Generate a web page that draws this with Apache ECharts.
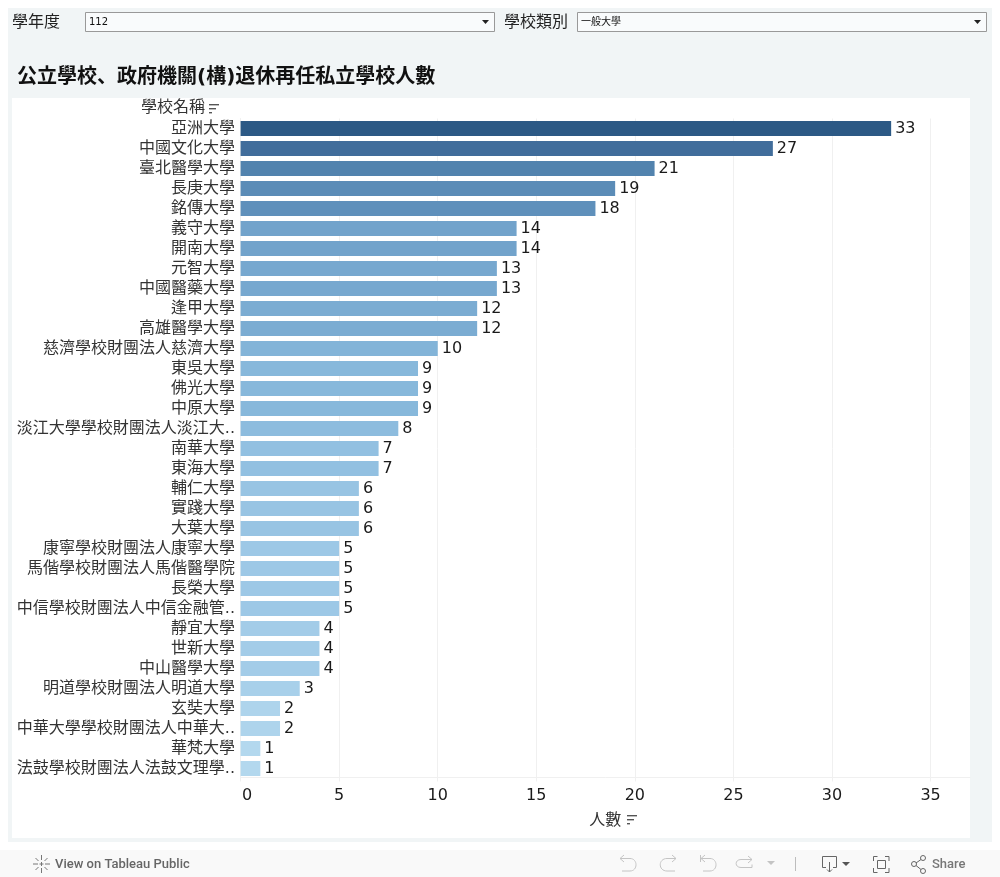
<!DOCTYPE html>
<html>
<head>
<meta charset="utf-8">
<title>公立學校、政府機關(構)退休再任私立學校人數</title>
<style>
  html, body { margin: 0; padding: 0; background: #fff; }
  #main { width: 1000px; height: 877px; }
  #icons { position: absolute; left: 0; top: 0; pointer-events: none; }
</style>
<script src="https://cdn.jsdelivr.net/npm/echarts@6/dist/echarts.min.js"></script>
</head>
<body>
<div id="main"></div>
<!-- 下拉箭頭與工具列圖示 -->
<svg id="icons" width="1000" height="877" fill="none">
  <path d="M482 20h7l-3.500 4z" fill="#222"/>
  <path d="M974 20h7l-3.500 4z" fill="#222"/>
  <path d="M41.500 855v5M41.500 868v5M33 864h5M45 864h5M35.500 858l3 3M44.500 867l3 3M35.500 870l3-3M44.500 861l3-3M41.500 862v4M39.500 864h4" stroke="#777"/>
  <path d="M624 855l-4 3.500 4 3.500M620 858.500h10c8 0 8 12.500 0 12.500h-8" stroke="#c4c4c4"/>
  <path d="M672 855l4 3.500-4 3.500M676 858.500h-9c-9 0-9 12.500 0 12.500h8" stroke="#c4c4c4"/>
  <path d="M700.500 855v7M705 855l-4 3.500 4 3.500M701 858.500h9c8 0 8 12.500 0 12.500h-7" stroke="#c4c4c4"/>
  <path d="M748 856l4 3.500-4 3.500M752 859.500h-11c-6.500 0-6.500 8 0 8h11v-3" stroke="#c4c4c4"/>
  <path d="M767 861h8l-4 4z" fill="#c4c4c4"/>
  <path d="M795.500 857v14" stroke="#bdbdbd"/>
  <path d="M826 867.500h-3.500v-11h14v11h-3.500M829.500 862v10M827 869.500l2.500 2.500 2.500-2.500" stroke="#666"/>
  <path d="M842 862h8l-4 4z" fill="#555"/>
  <path d="M873.500 861v-4.500h4M885 856.500h4v4.500M889 868v4.500h-4M877.500 872.500h-4v-4.500M877.500 860.500h8v8h-8z" stroke="#666"/>
  <circle cx="914" cy="864" r="2.500" stroke="#666"/>
  <circle cx="923" cy="858" r="2.500" stroke="#666"/>
  <circle cx="923" cy="871" r="2.500" stroke="#666"/>
  <path d="M916 863l5-3.500M916 865.500l5 4" stroke="#666"/>
</svg>
<script>
const schools = [
  "亞洲大學", "中國文化大學", "臺北醫學大學", "長庚大學", "銘傳大學", "義守大學", "開南大學",
  "元智大學", "中國醫藥大學", "逢甲大學", "高雄醫學大學", "慈濟學校財團法人慈濟大學", "東吳大學",
  "佛光大學", "中原大學", "淡江大學學校財團法人淡江大..", "南華大學", "東海大學", "輔仁大學",
  "實踐大學", "大葉大學", "康寧學校財團法人康寧大學", "馬偕學校財團法人馬偕醫學院", "長榮大學",
  "中信學校財團法人中信金融管..", "靜宜大學", "世新大學", "中山醫學大學", "明道學校財團法人明道大學",
  "玄奘大學", "中華大學學校財團法人中華大..", "華梵大學", "法鼓學校財團法人法鼓文理學.."
];
const counts = [33, 27, 21, 19, 18, 14, 14, 13, 13, 12, 12, 10, 9, 9, 9, 8, 7, 7, 6, 6, 6, 5, 5, 5, 5, 4, 4, 4, 3, 2, 2, 1, 1];
const xTicks = [0, 5, 10, 15, 20, 25, 30, 35];

const fontFamily = "'DejaVu Sans', 'Noto Sans CJK JP', sans-serif";
const uiFont = "Roboto, 'DejaVu Sans', sans-serif";
const gridColor = "#f0f0f0";
const textColor = "#1a1a1a";

// 頁面外框
function box(x, y, width, height, fill, stroke) {
  return {
    type: "rect",
    z: -1,
    shape: { x: x, y: y, width: width, height: height },
    style: { fill: fill, stroke: stroke || null, lineWidth: stroke ? 1 : 0 }
  };
}
function label(x, y, text, font, color, extra) {
  return {
    type: "text",
    z: 5,
    x: x,
    y: y,
    style: Object.assign({
      text: text,
      font: font,
      fill: color,
      verticalAlign: "middle"
    }, extra || {})
  };
}
function sortIcon(x, y) {
  const bar = (dy, w) => ({
    type: "rect", z: 5,
    shape: { x: x, y: y + dy, width: w, height: 1.4 },
    style: { fill: "#555" }
  });
  return [bar(0, 10), bar(4, 7), bar(8, 3)];
}

const chrome = [
  box(8, 8, 984, 834, "#f1f5f6"),
  box(12, 98, 958, 740, "#ffffff"),
  box(0, 850, 1000, 27, "#f9f9f9"),
  box(85.5, 12.5, 409, 19, "#f9fbfc", "#999999"),
  box(577.5, 12.5, 409, 19, "#f9fbfc", "#999999"),
  label(12, 23, "學年度", "16px " + fontFamily, "#222"),
  label(504, 23, "學校類別", "16px " + fontFamily, "#222"),
  label(89, 22, "112", "10px " + fontFamily, "#111"),
  label(581, 22, "一般大學", "10px " + fontFamily, "#111"),
  label(17, 78, "公立學校、政府機關(構)退休再任私立學校人數", "bold 20px " + fontFamily, "#111"),
  label(205, 108, "學校名稱", "16px " + fontFamily, "#333", { align: "right" }),
  ...sortIcon(209, 104),
  ...sortIcon(627, 815),
  label(55, 864.5, "View on Tableau Public", "500 13px " + uiFont, "#666"),
  label(932, 864.5, "Share", "500 13px " + uiFont, "#777")
];

const chart = echarts.init(document.getElementById("main"));
chart.setOption({
  animation: false,
  textStyle: { fontFamily: fontFamily },
  graphic: { elements: chrome },
  grid: { left: 240.6, top: 118.5, width: 729.4, height: 660, containLabel: false },
  visualMap: {
    show: false,
    type: "continuous",
    seriesIndex: 0,
    dimension: 0,
    min: 1,
    max: 33,
    inRange: {
      color: ["#b3d8ee", "#9dc8e6", "#87b8db", "#77a8cf", "#6394bf", "#5283ae", "#4774a2", "#3a6694", "#2c5985"]
    }
  },
  xAxis: {
    type: "value",
    min: 0,
    max: 37,
    offset: -1,
    name: "人數",
    nameLocation: "middle",
    nameGap: 35,
    nameTextStyle: { fontSize: 16, color: "#333" },
    axisLine: { show: true, lineStyle: { color: gridColor } },
    axisTick: { show: true, length: 4, lineStyle: { color: gridColor }, customValues: xTicks },
    axisLabel: {
      customValues: xTicks,
      fontSize: 16,
      color: textColor,
      margin: 10,
      formatter: (v) => (v === 0 ? "{zero|0}" : String(v)),
      rich: { zero: { fontSize: 16, color: textColor, padding: [0, 0, 0, 13] } }
    },
    splitLine: { show: true, lineStyle: { color: gridColor } }
  },
  yAxis: {
    type: "category",
    inverse: true,
    data: schools,
    axisLine: { show: true, lineStyle: { color: gridColor } },
    axisTick: { show: false },
    axisLabel: { fontSize: 16, color: "#333", margin: 5.6, interval: 0, padding: [2, 0, 0, 0] },
    splitLine: { show: false }
  },
  series: [
    {
      type: "bar",
      data: counts,
      barWidth: 15,
      label: { show: true, position: "right", distance: 4, fontSize: 16, color: textColor, padding: [3, 0, 0, 0] }
    }
  ]
});
</script>
</body>
</html>
